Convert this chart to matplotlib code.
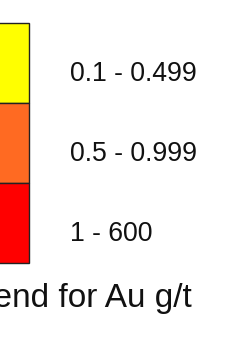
import matplotlib
matplotlib.use('Agg')
import matplotlib.pyplot as plt

# legend classes for Au g/t
class_labels = ['0.1 - 0.499', '0.5 - 0.999', '1 - 600']
class_colors = ['#FFFF00', '#FF6A22', '#FF0000']
title = 'Legend for Au g/t'

plt.rcParams['font.family'] = ['Liberation Sans', 'DejaVu Sans']

fig = plt.figure(figsize=(2.43, 3.47), dpi=100)
ax = fig.add_axes([0, 0, 1, 1])
ax.set_xlim(0, 243)
# one unit per class box, 80 px tall, first box centred 63 px from the top
ax.set_ylim((347 - 63) / 80.0, -63 / 80.0)
ax.axis('off')

pos = list(range(len(class_labels)))
ax.barh(pos, 35, height=1.0, left=-6, color=class_colors,
        edgecolor='#222222', linewidth=1.0)

for i, lab in zip(pos, class_labels):
    ax.text(70, i + 0.14, lab, fontsize=19.2, va='center', ha='left', color='#111111')

# title is partly cut off at the left edge, as in the original image
ax.text(192, (307 - 63) / 80.0, title, fontsize=24, va='baseline', ha='right', color='#111111')

fig.savefig('out.png', dpi=100)
